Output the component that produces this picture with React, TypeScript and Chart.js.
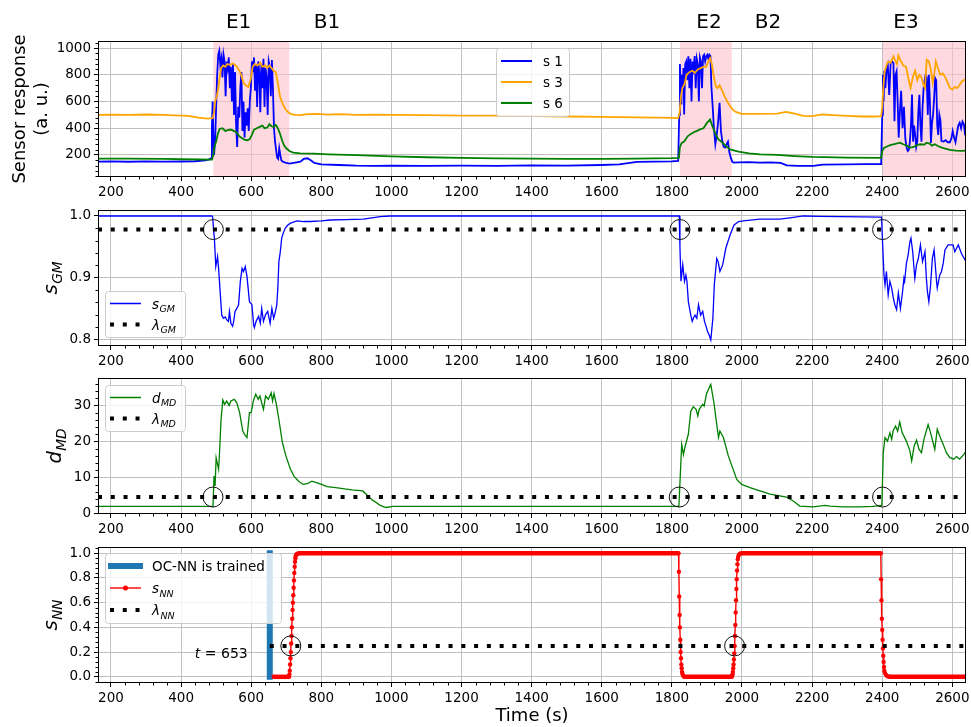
import React, { useEffect, useRef } from "react";
import { Chart, registerables } from "chart.js";

Chart.register(...registerables);

const FONT = '"DejaVu Sans", "Liberation Sans", sans-serif';
const W = 971;
const PLOT_H = 136;
const TICK_SIZE = 13.5;
const LABEL_SIZE = 18;
const MATH_LABEL_SIZE = 19.5;
const GRID = "#c0c0c0";

// ---------------- shared x axis ----------------
const X_MIN = 163;
const X_MAX = 2639;
const xTicks = [200, 400, 600, 800, 1000, 1200, 1400, 1600, 1800, 2000, 2200, 2400, 2600];

// ---------------- events ----------------
const eventLabels = ["E1", "B1", "E2", "B2", "E3"];
const eventLabelTimes = [564, 816, 1906, 2074, 2468];
const exposureStarts = [492, 1823, 2402];
const exposureEnds = [709, 1971, 2660];

// ---------------- panel 1: sensor responses ----------------
const p1Ticks = [200, 400, 600, 800, 1000];
const s1 = [
  [163, 150], [200, 152], [250, 149], [300, 152], [350, 150], [400, 151], [440, 153], [470, 160], [480, 166], [486, 176],
  [488, 420], [490, 600], [492, 350], [494, 200], [497, 300], [500, 560], [503, 800], [506, 950], [509, 980], [512, 870],
  [515, 920], [518, 780], [521, 950], [524, 900], [527, 640], [530, 900], [533, 850], [536, 930], [539, 700], [542, 860],
  [545, 600], [548, 880], [551, 500], [554, 820], [557, 420], [560, 260], [563, 560], [566, 480], [569, 700], [572, 820],
  [575, 380], [578, 600], [581, 330], [584, 520], [587, 420], [590, 550], [593, 380], [596, 600], [599, 700], [602, 900],
  [605, 820], [608, 930], [611, 680], [614, 880], [617, 560], [620, 900], [623, 820], [626, 520], [629, 880], [632, 700],
  [635, 920], [638, 560], [641, 850], [644, 780], [647, 500], [650, 900], [653, 860], [656, 640], [659, 910], [662, 700],
  [665, 400], [668, 300], [671, 240], [674, 180], [677, 170], [680, 250], [683, 200], [686, 160], [690, 150], [700, 140],
  [710, 135], [720, 140], [730, 145], [740, 150], [750, 170], [760, 175], [770, 160], [780, 140], [800, 130], [850, 125],
  [900, 120], [950, 118], [1000, 120], [1100, 118], [1200, 120], [1300, 118], [1400, 122], [1500, 120], [1600, 125], [1650, 130],
  [1700, 148], [1750, 150], [1800, 152], [1818, 155], [1821, 500], [1823, 880], [1825, 700], [1827, 578], [1829, 800], [1831, 700],
  [1833, 850], [1835, 503], [1838, 880], [1841, 900], [1844, 760], [1847, 938], [1850, 700], [1853, 920], [1856, 600], [1859, 900],
  [1862, 850], [1865, 940], [1868, 700], [1871, 920], [1874, 880], [1877, 600], [1880, 930], [1883, 900], [1886, 700], [1889, 940],
  [1892, 950], [1895, 900], [1898, 940], [1901, 950], [1904, 920], [1907, 950], [1910, 940], [1913, 700], [1916, 578], [1920, 400],
  [1924, 280], [1928, 350], [1932, 450], [1936, 590], [1940, 380], [1944, 300], [1948, 260], [1952, 255], [1956, 280], [1960, 300],
  [1964, 220], [1968, 180], [1972, 150], [1976, 143], [1990, 145], [2020, 146], [2050, 143], [2080, 145], [2110, 140], [2128, 122],
  [2160, 118], [2204, 118], [2230, 128], [2300, 130], [2350, 131], [2397, 132], [2400, 500], [2402, 800], [2404, 600], [2406, 830],
  [2409, 700], [2412, 826], [2416, 870], [2420, 650], [2424, 888], [2428, 900], [2432, 888], [2435, 453], [2438, 800], [2441, 826],
  [2444, 600], [2447, 330], [2450, 500], [2454, 680], [2458, 400], [2462, 560], [2466, 320], [2470, 250], [2473, 230], [2476, 240],
  [2479, 300], [2482, 420], [2485, 652], [2488, 300], [2491, 420], [2494, 350], [2497, 260], [2500, 300], [2503, 520], [2506, 650],
  [2509, 420], [2512, 300], [2515, 550], [2518, 700], [2521, 760], [2524, 801], [2527, 780], [2530, 500], [2533, 801], [2536, 600],
  [2539, 290], [2542, 440], [2545, 500], [2548, 620], [2551, 776], [2554, 760], [2557, 420], [2560, 350], [2563, 500], [2566, 460],
  [2569, 304], [2575, 300], [2581, 310], [2587, 295], [2593, 295], [2598, 330], [2601, 379], [2605, 330], [2609, 295], [2613, 360],
  [2617, 420], [2621, 441], [2625, 400], [2629, 450], [2633, 430], [2636, 360], [2639, 370],
];
const s3 = [
  [163, 500], [200, 502], [250, 500], [300, 503], [350, 500], [380, 497], [420, 492], [450, 480], [475, 472], [490, 475],
  [494, 520], [497, 600], [502, 640], [506, 700], [510, 780], [514, 850], [520, 870], [526, 860], [532, 880], [540, 875],
  [548, 885], [556, 870], [562, 850], [570, 810], [578, 740], [585, 720], [592, 710], [598, 760], [604, 860], [610, 880],
  [618, 870], [626, 890], [632, 860], [640, 870], [646, 850], [652, 870], [658, 850], [664, 830], [670, 820], [676, 740],
  [682, 640], [690, 580], [698, 540], [706, 520], [714, 505], [725, 500], [740, 498], [760, 505], [790, 508], [820, 502],
  [850, 506], [900, 500], [950, 502], [1000, 500], [1100, 498], [1200, 495], [1300, 494], [1400, 490], [1500, 488], [1600, 485],
  [1700, 482], [1760, 480], [1800, 478], [1818, 476], [1822, 520], [1826, 640], [1830, 700], [1836, 730], [1842, 800], [1850, 820],
  [1858, 830], [1866, 815], [1874, 840], [1882, 850], [1890, 860], [1898, 860], [1904, 900], [1909, 925], [1914, 880], [1920, 780],
  [1926, 710], [1930, 700], [1936, 720], [1942, 690], [1950, 640], [1960, 590], [1970, 550], [1980, 525], [1990, 515], [2000, 508],
  [2050, 508], [2100, 510], [2126, 523], [2150, 510], [2175, 493], [2200, 490], [2230, 503], [2260, 498], [2300, 492], [2340, 488],
  [2380, 488], [2397, 490], [2400, 560], [2403, 700], [2407, 826], [2412, 870], [2417, 900], [2424, 890], [2432, 938], [2438, 900],
  [2442, 880], [2446, 945], [2452, 910], [2460, 870], [2468, 860], [2474, 780], [2481, 702], [2488, 790], [2494, 830], [2500, 760],
  [2506, 800], [2512, 780], [2518, 720], [2522, 702], [2527, 913], [2533, 900], [2538, 850], [2544, 740], [2549, 820], [2553, 900],
  [2560, 840], [2566, 800], [2573, 810], [2580, 780], [2587, 740], [2593, 702], [2600, 690], [2607, 710], [2613, 700], [2620, 720],
  [2627, 750], [2636, 764], [2639, 770],
];
const s6 = [
  [163, 172], [250, 172], [350, 170], [450, 166], [488, 165], [492, 200], [495, 260], [500, 300], [505, 360], [510, 395],
  [518, 400], [526, 380], [534, 385], [542, 390], [550, 380], [558, 370], [566, 340], [574, 325], [582, 312], [590, 310],
  [596, 320], [602, 350], [608, 390], [616, 400], [624, 410], [632, 420], [638, 400], [646, 405], [652, 430], [658, 415],
  [664, 410], [670, 425], [676, 400], [682, 360], [688, 310], [694, 270], [700, 250], [710, 228], [720, 218], [740, 212],
  [780, 210], [820, 205], [900, 198], [1000, 190], [1100, 183], [1200, 178], [1300, 175], [1400, 172], [1500, 170], [1600, 170],
  [1700, 172], [1800, 176], [1820, 178], [1823, 260], [1828, 290], [1835, 300], [1845, 340], [1852, 354], [1862, 370], [1872, 380],
  [1880, 391], [1890, 400], [1900, 440], [1909, 466], [1915, 420], [1924, 360], [1933, 317], [1945, 290], [1955, 265], [1966, 242],
  [1990, 225], [2020, 212], [2052, 205], [2100, 200], [2150, 192], [2200, 185], [2300, 180], [2397, 178], [2400, 230], [2405, 252],
  [2415, 265], [2425, 275], [2432, 280], [2440, 285], [2451, 292], [2460, 280], [2470, 270], [2480, 255], [2490, 260], [2500, 275],
  [2510, 280], [2520, 278], [2527, 292], [2535, 285], [2542, 270], [2550, 280], [2560, 265], [2570, 255], [2580, 248], [2593, 238],
  [2610, 232], [2625, 230], [2639, 232],
];

// ---------------- panel 2: s_GM ----------------
const p2Ticks = [0.8, 0.9, 1.0];
const lambdaGM = 0.978;
const gmCircleTimes = [492, 1823, 2401];
const sGM = [
  [163, 1.0], [488, 1.0], [490, 0.999], [493, 0.975], [495, 0.964], [499, 0.918], [504, 0.934], [507, 0.915], [512, 0.872], [516, 0.839],
  [521, 0.834], [526, 0.836], [531, 0.831], [535, 0.829], [538, 0.845], [542, 0.826], [547, 0.821], [550, 0.829], [554, 0.845], [559, 0.85],
  [564, 0.856], [569, 0.894], [574, 0.915], [578, 0.91], [583, 0.918], [588, 0.902], [595, 0.861], [602, 0.856], [607, 0.823], [609, 0.819],
  [614, 0.829], [621, 0.837], [626, 0.826], [630, 0.85], [635, 0.829], [641, 0.84], [647, 0.845], [654, 0.826], [659, 0.85], [664, 0.834],
  [668, 0.842], [673, 0.856], [676, 0.883], [679, 0.926], [683, 0.942], [687, 0.964], [692, 0.973], [697, 0.98], [704, 0.985], [711, 0.988],
  [730, 0.992], [750, 0.991], [768, 0.991], [800, 0.992], [825, 0.9935], [870, 0.994], [920, 0.995], [968, 0.999], [996, 1.0], [1821, 1.0],
  [1823, 0.95], [1826, 0.894], [1831, 0.921], [1836, 0.894], [1840, 0.904], [1843, 0.894], [1847, 0.861], [1854, 0.839], [1858, 0.829], [1862, 0.835],
  [1866, 0.839], [1871, 0.834], [1876, 0.856], [1882, 0.839], [1888, 0.845], [1893, 0.829], [1898, 0.82], [1902, 0.812], [1907, 0.806], [1911, 0.799],
  [1917, 0.834], [1921, 0.888], [1928, 0.931], [1932, 0.926], [1937, 0.91], [1945, 0.921], [1954, 0.948], [1966, 0.969], [1977, 0.985], [1990, 0.991],
  [2004, 0.992], [2051, 0.995], [2108, 0.995], [2137, 0.997], [2175, 1.0], [2223, 0.9995], [2280, 0.999], [2398, 0.998], [2400, 0.97], [2405, 0.904],
  [2408, 0.888], [2412, 0.91], [2417, 0.872], [2422, 0.894], [2427, 0.883], [2431, 0.869], [2436, 0.856], [2441, 0.848], [2446, 0.875], [2452, 0.85],
  [2458, 0.877], [2462, 0.899], [2464, 0.894], [2469, 0.923], [2474, 0.937], [2479, 0.958], [2482, 0.964], [2487, 0.942], [2493, 0.899], [2498, 0.921],
  [2503, 0.931], [2509, 0.953], [2515, 0.926], [2522, 0.942], [2526, 0.899], [2529, 0.877], [2533, 0.861], [2538, 0.888], [2543, 0.931], [2548, 0.945],
  [2555, 0.894], [2557, 0.883], [2564, 0.904], [2569, 0.91], [2574, 0.923], [2579, 0.945], [2588, 0.953], [2602, 0.953], [2607, 0.942], [2617, 0.953],
  [2626, 0.939], [2639, 0.926],
];

// ---------------- panel 3: d_MD ----------------
const p3Ticks = [0, 10, 20, 30];
const lambdaMD = 4.6;
const mdCircleTimes = [491, 1821, 2401];
const dMD = [
  [163, 2.0], [491, 2.0], [494, 10.4], [497, 7.7], [500, 15.5], [507, 12.3], [509, 15.5], [514, 26.1], [519, 31.5], [524, 30.3],
  [530, 31.2], [537, 30.0], [542, 31.2], [552, 31.7], [559, 30.7], [567, 28.0], [576, 22.9], [581, 22.0], [588, 21.1], [595, 28.0],
  [600, 28.0], [606, 31.2], [613, 33.1], [620, 31.7], [625, 32.6], [630, 30.7], [635, 28.9], [641, 32.6], [649, 31.7], [657, 33.5],
  [661, 31.2], [665, 33.3], [671, 30.7], [679, 26.1], [689, 19.7], [699, 16.0], [712, 12.3], [722, 10.4], [735, 9.0], [748, 8.1],
  [760, 8.3], [773, 9.0], [786, 8.6], [801, 8.1], [816, 7.5], [841, 7.2], [887, 6.6], [918, 6.3], [943, 4.0], [968, 2.3],
  [984, 1.7], [1004, 2.0], [1820, 2.0], [1828, 19.2], [1833, 16.4], [1838, 18.7], [1847, 22.0], [1854, 28.4], [1861, 29.6], [1869, 28.9],
  [1874, 27.1], [1878, 28.9], [1888, 30.3], [1892, 29.8], [1899, 33.3], [1911, 35.8], [1920, 30.7], [1933, 21.1], [1937, 22.9], [1947, 21.1],
  [1961, 16.0], [1985, 9.5], [1999, 8.1], [2023, 7.2], [2051, 6.3], [2080, 5.4], [2108, 4.9], [2127, 4.6], [2146, 3.5], [2165, 2.1],
  [2203, 1.9], [2237, 2.3], [2251, 2.1], [2289, 1.85], [2336, 1.9], [2374, 2.0], [2399, 2.3], [2403, 16.9], [2408, 21.1], [2415, 20.1],
  [2422, 22.4], [2427, 20.6], [2431, 22.9], [2438, 24.3], [2444, 22.9], [2450, 25.4], [2457, 22.4], [2469, 20.1], [2479, 17.4], [2484, 14.6],
  [2491, 18.7], [2498, 20.4], [2505, 17.8], [2512, 16.9], [2519, 20.6], [2523, 22.0], [2531, 24.7], [2538, 22.4], [2550, 17.8], [2557, 23.4],
  [2564, 21.5], [2574, 19.2], [2583, 16.9], [2593, 15.5], [2604, 15.1], [2612, 15.8], [2621, 15.1], [2633, 16.4], [2639, 17.4],
];

// ---------------- panel 4: s_NN ----------------
const p4Ticks = [0, 0.2, 0.4, 0.6, 0.8, 1.0];
const lambdaNN = 0.25;
const nnCircleTimes = [713, 1979];
const trainTime = 653;
const sNN = [
  [664, 0], [708, 0], [709, 0.02], [710, 0.05], [711, 0.1], [712, 0.15], [713, 0.2], [714, 0.27], [715, 0.33], [716, 0.4],
  [717, 0.47], [718, 0.54], [719, 0.6], [720, 0.66], [721, 0.72], [722, 0.78], [723, 0.84], [724, 0.89], [725, 0.93], [726, 0.96],
  [727, 0.98], [729, 0.99], [732, 0.995], [736, 1.0], [1819, 1.0], [1820, 0.85], [1821, 0.65], [1822, 0.5], [1823, 0.4], [1824, 0.3],
  [1825, 0.2], [1826, 0.15], [1827, 0.1], [1828, 0.07], [1829, 0.04], [1830, 0.025], [1832, 0.01], [1835, 0], [1971, 0], [1972, 0.01],
  [1973, 0.02], [1974, 0.04], [1975, 0.07], [1976, 0.1], [1977, 0.14], [1978, 0.19], [1979, 0.25], [1980, 0.33], [1981, 0.42], [1982, 0.52],
  [1983, 0.62], [1984, 0.71], [1985, 0.79], [1986, 0.86], [1987, 0.91], [1988, 0.95], [1989, 0.97], [1991, 0.985], [1994, 0.995], [1998, 1.0],
  [2396, 1.0], [2397, 0.79], [2398, 0.62], [2399, 0.47], [2400, 0.38], [2401, 0.3], [2402, 0.23], [2403, 0.17], [2404, 0.12], [2405, 0.08],
  [2406, 0.05], [2408, 0.03], [2411, 0.015], [2415, 0.005], [2420, 0], [2639, 0],
];

// ---------------- helpers ----------------
type Seg = { t: string; i?: boolean; sub?: string };

const fontStr = (italic: boolean, size: number) => `${italic ? "italic " : ""}${size}px ${FONT}`;

function drawRich(ctx: CanvasRenderingContext2D, segs: Seg[], x: number, y: number, size: number, align: string) {
  const subSize = size * 0.7;
  const drop = size * 0.24;
  const parts: { t: string; f: string; x: number; dy: number }[] = [];
  let w = 0;
  for (const s of segs) {
    const f = fontStr(!!s.i, size);
    ctx.font = f;
    parts.push({ t: s.t, f, x: w, dy: 0 });
    w += ctx.measureText(s.t).width;
    if (s.sub) {
      const fs = fontStr(true, subSize);
      ctx.font = fs;
      w += size * 0.03;
      parts.push({ t: s.sub, f: fs, x: w, dy: drop });
      w += ctx.measureText(s.sub).width;
    }
  }
  const x0 = align === "center" ? x - w / 2 : align === "right" ? x - w : x;
  ctx.fillStyle = "#000";
  ctx.textAlign = "left";
  ctx.textBaseline = "alphabetic";
  for (const p of parts) {
    ctx.font = p.f;
    ctx.fillText(p.t, x0 + p.x, y + p.dy);
  }
}

function roundRectPath(ctx: CanvasRenderingContext2D, x: number, y: number, w: number, h: number, r: number) {
  ctx.beginPath();
  ctx.moveTo(x + r, y);
  ctx.lineTo(x + w - r, y);
  ctx.arcTo(x + w, y, x + w, y + r, r);
  ctx.lineTo(x + w, y + h - r);
  ctx.arcTo(x + w, y + h, x + w - r, y + h, r);
  ctx.lineTo(x + r, y + h);
  ctx.arcTo(x, y + h, x, y + h - r, r);
  ctx.lineTo(x, y + r);
  ctx.arcTo(x, y, x + r, y, r);
  ctx.closePath();
}

function drawLegend(ctx: CanvasRenderingContext2D, L: any, off: number) {
  const y = L.y - off;
  ctx.save();
  roundRectPath(ctx, L.x + 0.5, y + 0.5, L.w, L.h, 3);
  ctx.fillStyle = "rgba(255,255,255,0.8)";
  ctx.fill();
  ctx.strokeStyle = "#cccccc";
  ctx.lineWidth = 1;
  ctx.stroke();
  L.items.forEach((it: any, i: number) => {
    const cy = y + L.first + i * L.rowH;
    const h0 = L.x + 5;
    const h1 = L.x + 36;
    ctx.setLineDash([]);
    ctx.lineCap = "butt";
    ctx.beginPath();
    if (it.kind === "line" || it.kind === "marker") {
      ctx.strokeStyle = it.color;
      ctx.lineWidth = it.lw;
      ctx.moveTo(h0, cy);
      ctx.lineTo(h1, cy);
      ctx.stroke();
      if (it.kind === "marker") {
        ctx.beginPath();
        ctx.fillStyle = it.color;
        ctx.arc((h0 + h1) / 2, cy, 2.5, 0, Math.PI * 2);
        ctx.fill();
      }
    } else if (it.kind === "thick") {
      ctx.strokeStyle = it.color;
      ctx.lineWidth = 6;
      ctx.moveTo(L.x + 3, cy);
      ctx.lineTo(L.x + 38, cy);
      ctx.stroke();
    } else {
      ctx.strokeStyle = "#000";
      ctx.lineWidth = 4;
      ctx.setLineDash([4, 8.77]);
      ctx.moveTo(h0, cy);
      ctx.lineTo(h1, cy);
      ctx.stroke();
      ctx.setLineDash([]);
    }
    drawRich(ctx, it.label, L.x + 47, cy + 5.3, TICK_SIZE, "left");
  });
  ctx.restore();
}

function makeDecor(spec: any) {
  return {
    id: "decor",
    beforeDatasetsDraw(chart: any) {
      if (!spec.spans) return;
      const { ctx, chartArea: a } = chart;
      const xs = chart.scales.x;
      ctx.save();
      ctx.beginPath();
      ctx.rect(a.left, a.top, a.right - a.left, a.bottom - a.top);
      ctx.clip();
      ctx.fillStyle = "rgba(255,192,203,0.6)";
      for (let i = 0; i < exposureStarts.length; i++) {
        const x0 = xs.getPixelForValue(exposureStarts[i]);
        const x1 = xs.getPixelForValue(exposureEnds[i]);
        ctx.fillRect(x0, a.top, x1 - x0, a.bottom - a.top);
      }
      ctx.restore();
    },
    afterDraw(chart: any) {
      const { ctx, chartArea: a } = chart;
      const xs = chart.scales.x;
      const ys = chart.scales.y;
      const off = spec.canvasTop;
      ctx.save();
      // circles
      if (spec.circles) {
        ctx.strokeStyle = "#111";
        ctx.lineWidth = 1;
        for (const t of spec.circles) {
          ctx.beginPath();
          ctx.arc(xs.getPixelForValue(t), ys.getPixelForValue(spec.lambda), 10, 0, Math.PI * 2);
          ctx.stroke();
        }
      }
      // frame
      ctx.strokeStyle = "#000";
      ctx.lineWidth = 1;
      ctx.strokeRect(a.left + 0.5, a.top + 0.5, a.right - a.left - 1, a.bottom - a.top - 1);
      // minor ticks x
      ctx.beginPath();
      for (let k = Math.ceil(X_MIN / 40); k * 40 <= X_MAX; k++) {
        const v = k * 40;
        if (v % 200 === 0) continue;
        const px = Math.round(xs.getPixelForValue(v)) + 0.5;
        ctx.moveTo(px, a.bottom);
        ctx.lineTo(px, a.bottom + 2.5);
      }
      // minor ticks y
      const st = spec.yMinor;
      for (let k = Math.ceil(spec.yMin / st - 1e-9); k * st <= spec.yMax + 1e-9; k++) {
        const v = k * st;
        if (spec.yTicks.some((m: number) => Math.abs(m - v) < st * 0.01)) continue;
        const py = Math.round(ys.getPixelForValue(v)) + 0.5;
        ctx.moveTo(a.left, py);
        ctx.lineTo(a.left - 2.5, py);
      }
      ctx.stroke();
      // event labels
      if (spec.eventLabels) {
        ctx.font = fontStr(false, 20);
        ctx.fillStyle = "#000";
        ctx.textAlign = "center";
        ctx.textBaseline = "alphabetic";
        eventLabels.forEach((lab, i) => {
          ctx.fillText(lab, xs.getPixelForValue(eventLabelTimes[i]), 28 - off);
        });
      }
      // note
      if (spec.note) {
        drawRich(ctx, spec.note.segs, xs.getPixelForValue(spec.note.t), ys.getPixelForValue(spec.note.v), 14, "right");
      }
      // legend
      if (spec.legend) drawLegend(ctx, spec.legend, off);
      // y titles
      for (const yt of spec.yTitles) {
        ctx.save();
        ctx.translate(yt.x, spec.yTitleCY - off);
        ctx.rotate(-Math.PI / 2);
        drawRich(ctx, yt.segs, 0, 0, yt.size, "center");
        ctx.restore();
      }
      if (spec.xTitle) {
        drawRich(ctx, [{ t: "Time (s)" }], (a.left + a.right) / 2, 721 - off, LABEL_SIZE, "center");
      }
      ctx.restore();
    },
  };
}

const lineDs = (pts: number[][], color: string, width: number) => ({
  data: pts.map(([x, y]) => ({ x, y })),
  borderColor: color,
  backgroundColor: color,
  borderWidth: width,
  pointRadius: 0,
  fill: false,
  tension: 0,
});

const thresholdDs = (lambda: number, from: number) => ({
  data: [{ x: from, y: lambda }, { x: X_MAX, y: lambda }],
  borderColor: "#000",
  borderWidth: 4,
  borderDash: [4, 8.77],
  borderCapStyle: "butt",
  pointRadius: 0,
  fill: false,
});

const fmt1 = (v: number) => v.toFixed(1);
const fmt0 = (v: number) => String(v);

const SPECS: any[] = [
  {
    key: "p1",
    canvasTop: 0,
    padTop: 41,
    xAxisH: 26,
    yMin: 35,
    yMax: 1053,
    yTicks: p1Ticks,
    yMinor: 40,
    yFmt: fmt0,
    spans: true,
    eventLabels: true,
    datasets: [lineDs(s6, "#008000", 1.8), lineDs(s3, "#ffa500", 1.8), lineDs(s1, "#0000ff", 1.8)],
    legend: {
      x: 496, y: 48, w: 73, h: 68, first: 13, rowH: 21,
      items: [
        { kind: "line", color: "#0000ff", lw: 2, label: [{ t: "s 1" }] },
        { kind: "line", color: "#ffa500", lw: 2, label: [{ t: "s 3" }] },
        { kind: "line", color: "#008000", lw: 2, label: [{ t: "s 6" }] },
      ],
    },
    yTitleCY: 109,
    yTitles: [
      { x: 25, size: LABEL_SIZE, segs: [{ t: "Sensor response" }] },
      { x: 46.5, size: LABEL_SIZE, segs: [{ t: "(a. u.)" }] },
    ],
  },
  {
    key: "p2",
    canvasTop: 200,
    padTop: 10,
    xAxisH: 26,
    yMin: 0.789,
    yMax: 1.0097,
    yTicks: p2Ticks,
    yMinor: 0.02,
    yFmt: fmt1,
    lambda: lambdaGM,
    circles: gmCircleTimes,
    datasets: [thresholdDs(lambdaGM, X_MIN), lineDs(sGM, "#0000ff", 1.3)],
    legend: {
      x: 105, y: 291, w: 80, h: 46, first: 12.5, rowH: 21,
      items: [
        { kind: "line", color: "#0000ff", lw: 1.5, label: [{ t: "s", i: true, sub: "GM" }] },
        { kind: "dotted", label: [{ t: "λ", i: true, sub: "GM" }] },
      ],
    },
    yTitleCY: 278,
    yTitles: [{ x: 57, size: MATH_LABEL_SIZE, segs: [{ t: "s", i: true, sub: "GM" }] }],
  },
  {
    key: "p3",
    canvasTop: 368,
    padTop: 10,
    xAxisH: 26,
    yMin: -0.1,
    yMax: 37.6,
    yTicks: p3Ticks,
    yMinor: 2,
    yFmt: fmt0,
    lambda: lambdaMD,
    circles: mdCircleTimes,
    datasets: [thresholdDs(lambdaMD, X_MIN), lineDs(dMD, "#008000", 1.3)],
    legend: {
      x: 105, y: 385, w: 80, h: 46, first: 12.5, rowH: 21,
      items: [
        { kind: "line", color: "#008000", lw: 1.5, label: [{ t: "d", i: true, sub: "MD" }] },
        { kind: "dotted", label: [{ t: "λ", i: true, sub: "MD" }] },
      ],
    },
    yTitleCY: 446,
    yTitles: [{ x: 61, size: MATH_LABEL_SIZE, segs: [{ t: "d", i: true, sub: "MD" }] }],
  },
  {
    key: "p4",
    canvasTop: 537,
    padTop: 10,
    xAxisH: 44,
    yMin: -0.05,
    yMax: 1.05,
    yTicks: p4Ticks,
    yMinor: 0.04,
    yFmt: fmt1,
    lambda: lambdaNN,
    circles: nnCircleTimes,
    xTitle: true,
    note: { t: 590, v: 0.155, segs: [{ t: "t", i: true }, { t: " = 653" }] },
    datasets: [
      thresholdDs(lambdaNN, trainTime),
      {
        ...lineDs(sNN, "#ff0000", 1.4),
        pointRadius: 2.2,
        pointBorderWidth: 0,
        pointBackgroundColor: "#ff0000",
        segment: {
          borderWidth: (c: any) => (Math.abs(c.p0.parsed.y - c.p1.parsed.y) < 1e-9 ? 4.5 : 1.4),
        },
      },
      {
        data: [{ x: trainTime, y: 0 }, { x: trainTime, y: 1 }],
        borderColor: "#1f77b4",
        borderWidth: 6,
        borderCapStyle: "square",
        pointRadius: 0,
        fill: false,
      },
    ],
    legend: {
      x: 105, y: 553, w: 176, h: 70, first: 13, rowH: 22,
      items: [
        { kind: "thick", color: "#1f77b4", label: [{ t: "OC-NN is trained" }] },
        { kind: "marker", color: "#ff0000", lw: 1.4, label: [{ t: "s", i: true, sub: "NN" }] },
        { kind: "dotted", label: [{ t: "λ", i: true, sub: "NN" }] },
      ],
    },
    yTitleCY: 615,
    yTitles: [{ x: 57, size: MATH_LABEL_SIZE, segs: [{ t: "s", i: true, sub: "NN" }] }],
  },
];

function buildConfig(spec: any): any {
  return {
    type: "line",
    data: { datasets: spec.datasets },
    options: {
      responsive: false,
      maintainAspectRatio: false,
      animation: false,
      devicePixelRatio: 1,
      events: [],
      layout: { padding: { top: spec.padTop, right: 5, left: 0, bottom: 0 } },
      plugins: { legend: { display: false }, tooltip: { enabled: false }, title: { display: false } },
      scales: {
        x: {
          type: "linear",
          min: X_MIN,
          max: X_MAX,
          bounds: "data",
          afterBuildTicks: (s: any) => {
            s.ticks = xTicks.map((v) => ({ value: v }));
          },
          afterFit: (s: any) => {
            s.height = spec.xAxisH;
            s.paddingLeft = 0;
            s.paddingRight = 0;
          },
          ticks: {
            autoSkip: false,
            maxRotation: 0,
            minRotation: 0,
            padding: 3,
            color: "#000",
            font: { family: FONT, size: TICK_SIZE },
            callback: (v: number) => String(v),
          },
          grid: { color: GRID, lineWidth: 1, drawTicks: true, tickLength: 4, tickColor: "#000", tickWidth: 1 },
          border: { display: false },
        },
        y: {
          type: "linear",
          min: spec.yMin,
          max: spec.yMax,
          bounds: "data",
          afterBuildTicks: (s: any) => {
            s.ticks = spec.yTicks.map((v: number) => ({ value: v }));
          },
          afterFit: (s: any) => {
            s.width = 98;
            s.paddingTop = 0;
            s.paddingBottom = 0;
          },
          ticks: {
            autoSkip: false,
            padding: 3,
            color: "#000",
            font: { family: FONT, size: TICK_SIZE },
            callback: (v: number) => spec.yFmt(v),
          },
          grid: { color: GRID, lineWidth: 1, drawTicks: true, tickLength: 4, tickColor: "#000", tickWidth: 1 },
          border: { display: false },
        },
      },
    },
    plugins: [makeDecor(spec)],
  };
}

function Panel({ spec }: { spec: any }) {
  const ref = useRef<HTMLCanvasElement | null>(null);
  const h = spec.padTop + PLOT_H + spec.xAxisH;
  useEffect(() => {
    if (!ref.current) return;
    const chart = new Chart(ref.current, buildConfig(spec));
    return () => chart.destroy();
  }, []);
  return (
    <canvas
      ref={ref}
      width={W}
      height={h}
      style={{ position: "absolute", left: 0, top: spec.canvasTop, width: W, height: h, display: "block" }}
    />
  );
}

export default function App() {
  return (
    <div style={{ position: "absolute", left: 0, top: 0, width: W, height: 727, background: "#fff", overflow: "hidden" }}>
      {SPECS.map((s) => (
        <Panel key={s.key} spec={s} />
      ))}
    </div>
  );
}
